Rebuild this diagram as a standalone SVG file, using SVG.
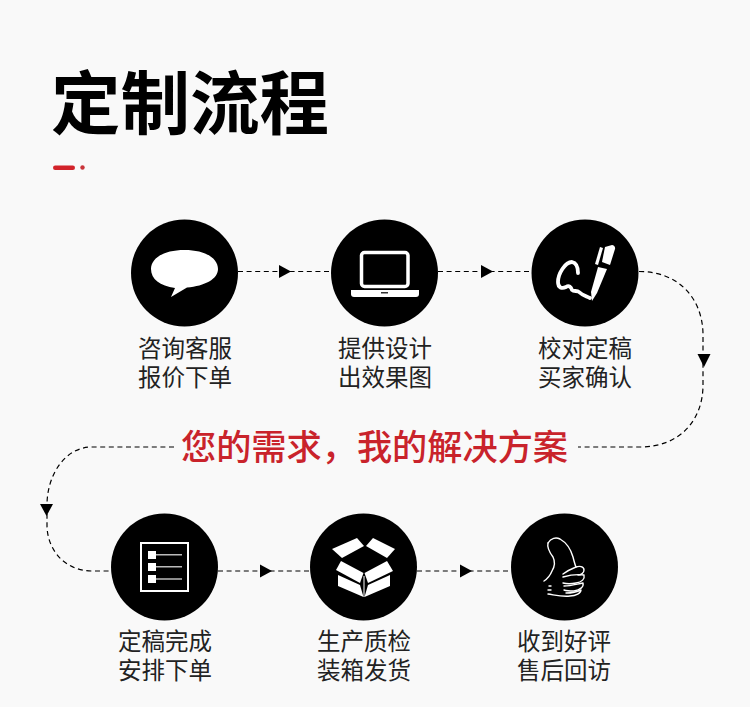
<svg xmlns="http://www.w3.org/2000/svg" width="750" height="707" viewBox="0 0 750 707">
<style>
.c{fill:#000}
.w{fill:#fff}
.l{fill:none;stroke:#fff;stroke-linecap:round;stroke-linejoin:round}
.d{fill:none;stroke:#000;stroke-width:1.200;stroke-dasharray:5 3.600}
.a{fill:#000}
text{font-family:"Noto Sans CJK SC","Noto Sans",sans-serif}
.t{font-size:23.500px;fill:#222;text-anchor:middle}
</style>
<rect width="750" height="707" fill="#f9f9f9"/>
<g id="title">
<text x="51" y="128.500" font-size="69.500" font-weight="700" fill="#000">定制流程</text>
<rect x="53" y="165.500" width="22" height="4.500" rx="2.200" fill="#d2232a"/>
<circle cx="82.500" cy="167.500" r="2.200" fill="#c9343a"/>
</g>
<g id="connectors">
<path class="d" d="M238 271.500H331"/>
<path class="d" d="M438 271.500H532"/>
<path class="d" d="M639 271.500C680 271.500 703 300 703 335V385C703 420 680 447 640 447H578"/>
<path class="d" d="M174 447H92C65 447 47 475 47 505V525C47 550 65 571 92 571H111"/>
<path class="d" d="M218 571H310"/>
<path class="d" d="M417 571H511"/>
<path class="a" d="M279 265 291 271.500 279 278Z"/>
<path class="a" d="M481 265 493 271.500 481 278Z"/>
<path class="a" d="M697.500 354H710.500L704 367Z"/>
<path class="a" d="M40 504H53L46.500 516Z"/>
<path class="a" d="M260 564.500 272 571 260 577.500Z"/>
<path class="a" d="M460 564.500 472 571 460 577.500Z"/>
</g>
<g id="node-consult">
<circle class="c" cx="184.500" cy="273" r="53.500"/>
<path class="w" d="M184.500 250C205 250 218 258 218 269C218 279 205 286 187 287.500L171 297 175 288C160 286 151 279 151 269C151 258 164 250 184.500 250Z"/>
<text class="t"><tspan x="185" y="357">咨询客服</tspan><tspan x="185" y="386">报价下单</tspan></text>
</g>
<g id="node-design">
<circle class="c" cx="384.500" cy="273" r="53.500"/>
<rect class="l" x="361.500" y="252.500" width="46.500" height="34" rx="3" stroke-width="3.500"/>
<path class="w" d="M351 290H419V294C419 296 418 297 416 297H354C352 297 351 296 351 294Z"/>
<rect x="381" y="292" width="7" height="1.500" fill="#333"/>
<text class="t"><tspan x="385" y="357">提供设计</tspan><tspan x="385" y="386">出效果图</tspan></text>
</g>
<g id="node-review">
<circle class="c" cx="585" cy="273" r="53.500"/>
<path class="w" d="M600 247 603 248 598 265 595 264Z"/>
<path class="w" d="M605 247 612 245C614 245 615.500 247 615 249L610 265 602 262Z"/>
<path class="w" d="M598 267 607 269 597 293 592 301 591 292Z"/>
<path class="l" stroke-width="3.800" d="M578 273C578 268 577 263 572 262C565 262 558 274 558 282C558 288 562 289 566 287C569 285 571 287 572 290C574 292 577 290 579 292C582 295 586 296 590 298"/>
<text class="t"><tspan x="585" y="357">校对定稿</tspan><tspan x="585" y="386">买家确认</tspan></text>
</g>
<g id="banner">
<text x="181" y="459.500" font-size="35.200" font-weight="500" fill="#c9232b">您的需求，我的解决方案</text>
</g>
<g id="node-finalize">
<circle class="c" cx="164.500" cy="567" r="53.500"/>
<rect x="141" y="543" width="47" height="48" fill="none" stroke="#fff" stroke-width="2"/>
<rect class="w" x="148" y="551" width="8" height="8"/>
<rect class="w" x="148" y="563" width="8" height="8"/>
<rect class="w" x="148" y="575" width="8" height="8"/>
<path d="M156 554.700H182M156 566.700H182M156 579H182" stroke="#bbb" stroke-width="1.500" fill="none"/>
<text class="t"><tspan x="165" y="650">定稿完成</tspan><tspan x="165" y="679">安排下单</tspan></text>
</g>
<g id="node-qc">
<circle class="c" cx="363.500" cy="567" r="53.500"/>
<path class="w" d="M332 549 357 538 364 546 342 558Z"/>
<path class="w" d="M395 549 373 538 366 546 387 558Z"/>
<path class="w" d="M341 561 363.500 573 360 583 336 570Z"/>
<path class="w" d="M387 561 364.500 573 368 583 393 571Z"/>
<path class="w" d="M338 575 360 585 363.500 597 338 586Z"/>
<path class="w" d="M390 575 368 585 364.500 597 390 586Z"/>
<path class="w" d="M363.500 576H364.500V597H363.500Z"/>
<text class="t"><tspan x="364" y="650">生产质检</tspan><tspan x="364" y="679">装箱发货</tspan></text>
</g>
<g id="node-reviewback">
<circle class="c" cx="564.500" cy="567" r="53.500"/>
<g class="l" stroke-width="1.400">
<path d="M548 543C551 538 556 537 560 539C567 543 571 550 573 557C574 561 575 565 576 567C579 566 584 566 584 570C584 573 581 575 578 575"/>
<path d="M548 543C547 547 550 553 553 557C555 561 555 566 552 571C550 576 547 579 544 581"/>
<path d="M576 567C571 569 567 571 563 574"/>
<path d="M563 577C570 575 577 574 584 575C585 579 582 582 576 583C571 584 567 584 563 583"/>
<path d="M564 586C571 586 577 584 583 583C584 587 580 590 574 591C570 591 567 591 564 590"/>
<path d="M566 593C571 593 577 592 581 590C581 593 576 596 570 596C562 597 555 595 548 594"/>
<path d="M549 586H551M548 590H551"/>
</g>
<text class="t"><tspan x="564" y="650">收到好评</tspan><tspan x="564" y="679">售后回访</tspan></text>
</g>
</svg>
